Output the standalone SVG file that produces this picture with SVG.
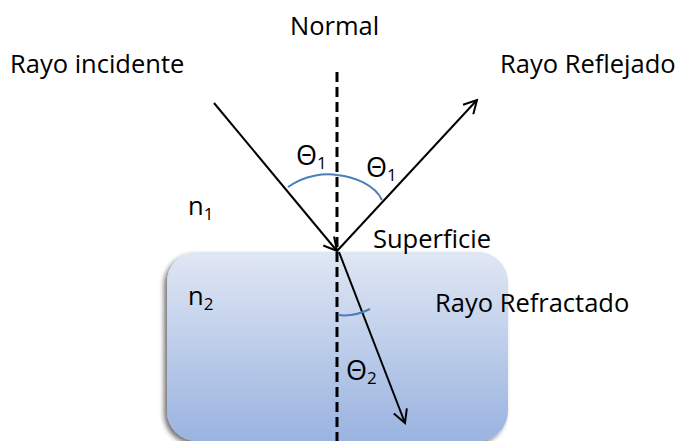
<svg xmlns="http://www.w3.org/2000/svg" width="678" height="441" viewBox="0 0 678 441">
<style>
text{font-family:"Open Sans","Liberation Sans",sans-serif;font-size:25.5px;fill:#000}
.sub{font-size:17px}
.th{font-size:27px}
.ray{stroke:#000;stroke-width:2;fill:none}
.arc{stroke:#4a7ebb;stroke-width:2;fill:none}
.normal{stroke:#000;stroke-width:3;stroke-dasharray:10 5;fill:none}
</style>
<defs>
<linearGradient id="g" x1="0" y1="0" x2="0" y2="1">
<stop offset="0" stop-color="#e0e7f4"/>
<stop offset="1" stop-color="#9ab3e0"/>
</linearGradient>
<filter id="sh" x="-10%" y="-10%" width="120%" height="120%">
<feGaussianBlur in="SourceAlpha" stdDeviation="2.5"/>
<feOffset dx="-3" dy="3" result="b"/>
<feComponentTransfer><feFuncA type="linear" slope="0.55"/></feComponentTransfer>
<feMerge><feMergeNode/><feMergeNode in="SourceGraphic"/></feMerge>
</filter>
<marker id="ah" markerWidth="16" markerHeight="16" refX="14" refY="8" orient="auto" markerUnits="userSpaceOnUse">
<path d="M1,1 L14,8 L1,15" fill="none" stroke="#000" stroke-width="2"/>
</marker>
</defs>
<g id="medium">
<rect x="167" y="252" width="341" height="189" rx="30" ry="30" fill="url(#g)" filter="url(#sh)"/>
</g>
<g id="connectors">
<line class="normal" x1="337" y1="72" x2="337" y2="441"/>
<line class="ray" x1="214" y1="103" x2="337" y2="251" marker-end="url(#ah)"/>
<line class="ray" x1="337" y1="251" x2="477" y2="100" marker-end="url(#ah)"/>
<line class="ray" x1="339" y1="252" x2="405" y2="423" marker-end="url(#ah)"/>
<path class="arc" d="M288,187 C305,175 325,173 337,175 C355,177 375,185 382,200"/>
<path class="arc" d="M338,315 Q354,317 370,309"/>
</g>
<g id="labels">
<text x="290" y="35">Normal</text>
<text x="10" y="73">Rayo incidente</text>
<text x="500" y="73">Rayo Reflejado</text>
<text x="373" y="248">Superficie</text>
<text x="435" y="312">Rayo Refractado</text>
<text x="188" y="215">n<tspan class="sub" dy="5">1</tspan></text>
<text x="188" y="305">n<tspan class="sub" dy="5">2</tspan></text>
<text class="th" x="296" y="165">Θ<tspan class="sub" dy="4">1</tspan></text>
<text class="th" x="366" y="177">Θ<tspan class="sub" dy="4">1</tspan></text>
<text class="th" x="346" y="380">Θ<tspan class="sub" dy="4">2</tspan></text>
</g>
</svg>
